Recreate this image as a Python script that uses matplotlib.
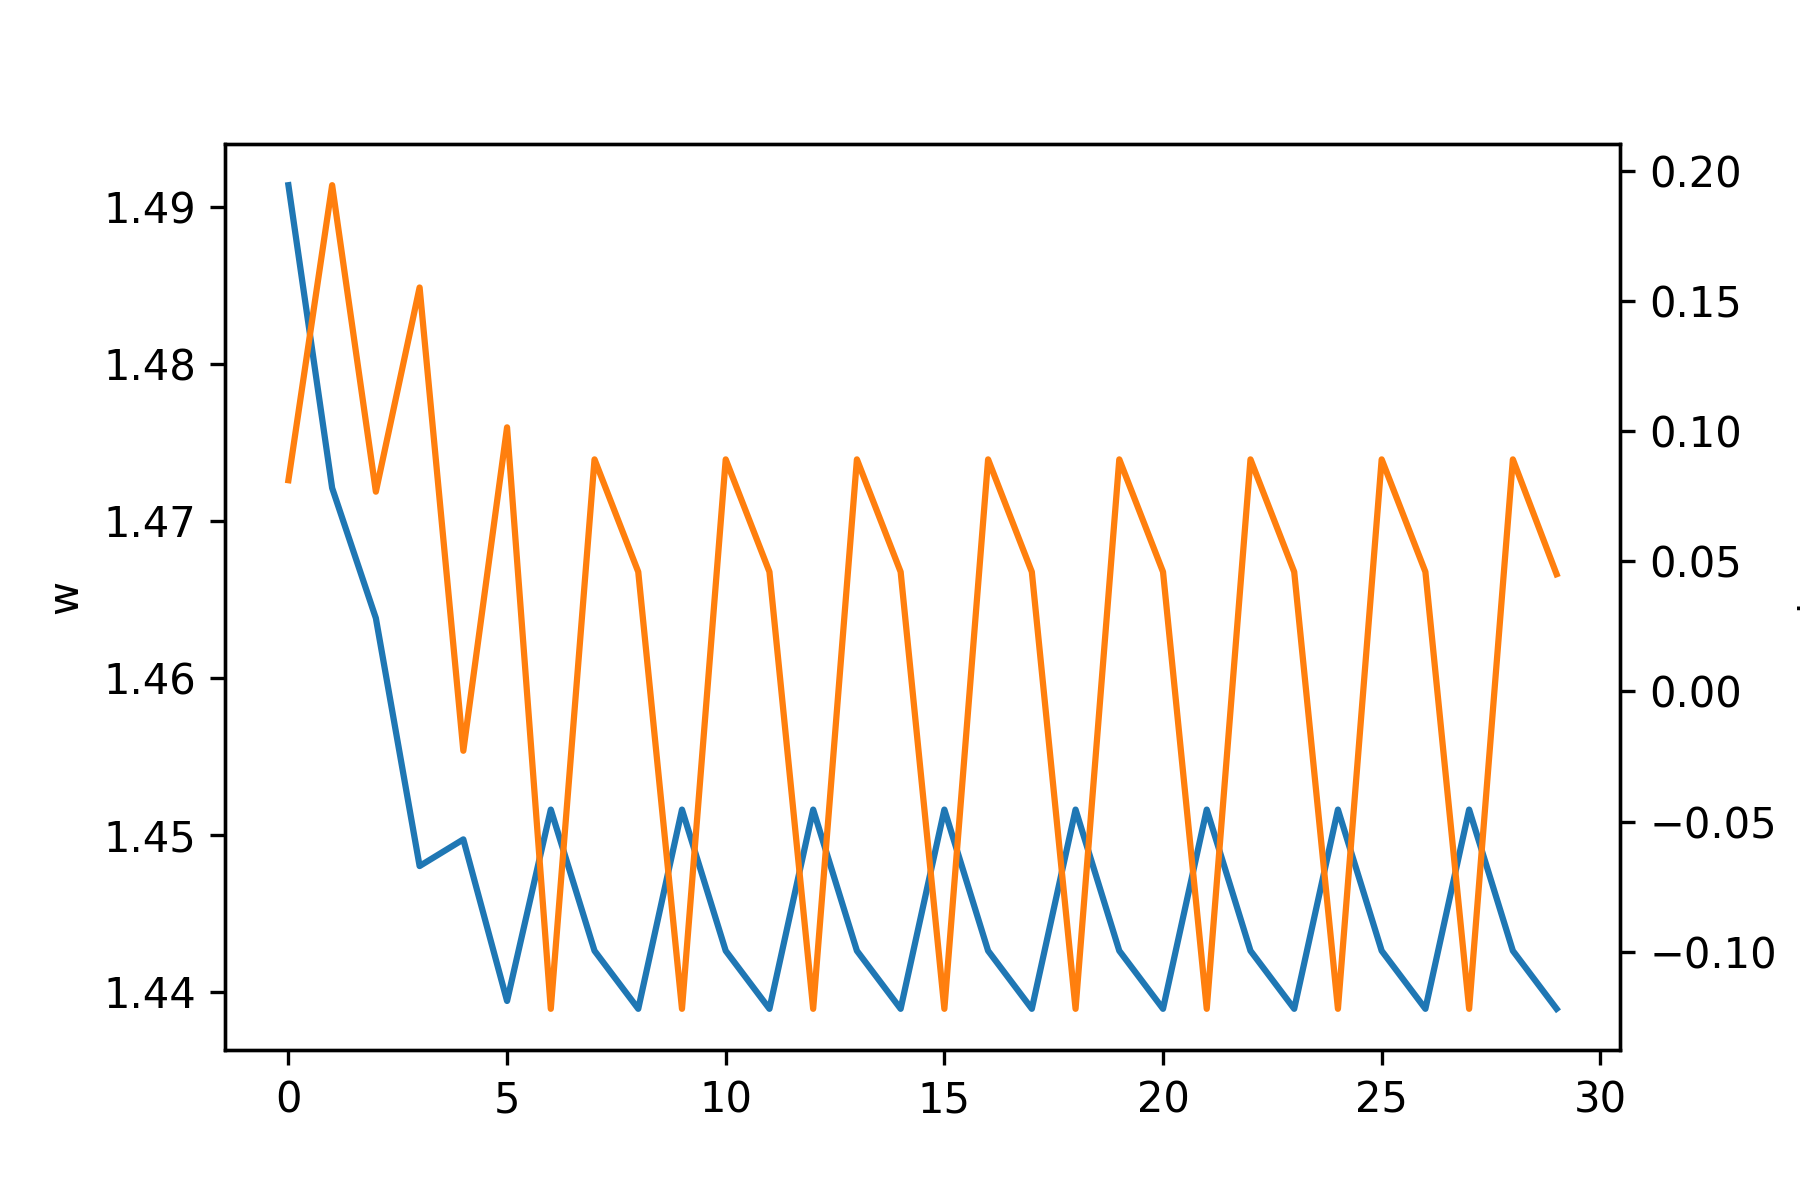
import matplotlib
matplotlib.use("Agg")
import matplotlib.pyplot as plt

# epochs and the two parameters tracked during training
epochs = list(range(30))
w_hist = [1.4914, 1.4721, 1.4638, 1.4480, 1.4497, 1.4394,
          1.4516, 1.4426, 1.4389, 1.4516, 1.4426, 1.4389,
          1.4516, 1.4426, 1.4389, 1.4516, 1.4426, 1.4389,
          1.4516, 1.4426, 1.4389, 1.4516, 1.4426, 1.4389,
          1.4516, 1.4426, 1.4389, 1.4516, 1.4426, 1.4389]
b_hist = [0.0811, 0.1944, 0.0767, 0.1551, -0.0228, 0.1014,
          -0.1219, 0.0891, 0.0459, -0.1219, 0.0891, 0.0459,
          -0.1219, 0.0891, 0.0459, -0.1219, 0.0891, 0.0459,
          -0.1219, 0.0891, 0.0459, -0.1219, 0.0891, 0.0459,
          -0.1219, 0.0891, 0.0459, -0.1219, 0.0891, 0.0450]

fig = plt.figure(figsize=(6, 4), dpi=300)
ax1 = fig.add_axes([0.125, 0.125, 0.775, 0.755])
ax1.plot(epochs, w_hist, color='C0')
ax1.set_ylabel('w')

ax2 = ax1.twinx()
ax2.plot(epochs, b_hist, color='C1')
ax2.set_ylabel('b')

fig.savefig('out.png', dpi=300)
